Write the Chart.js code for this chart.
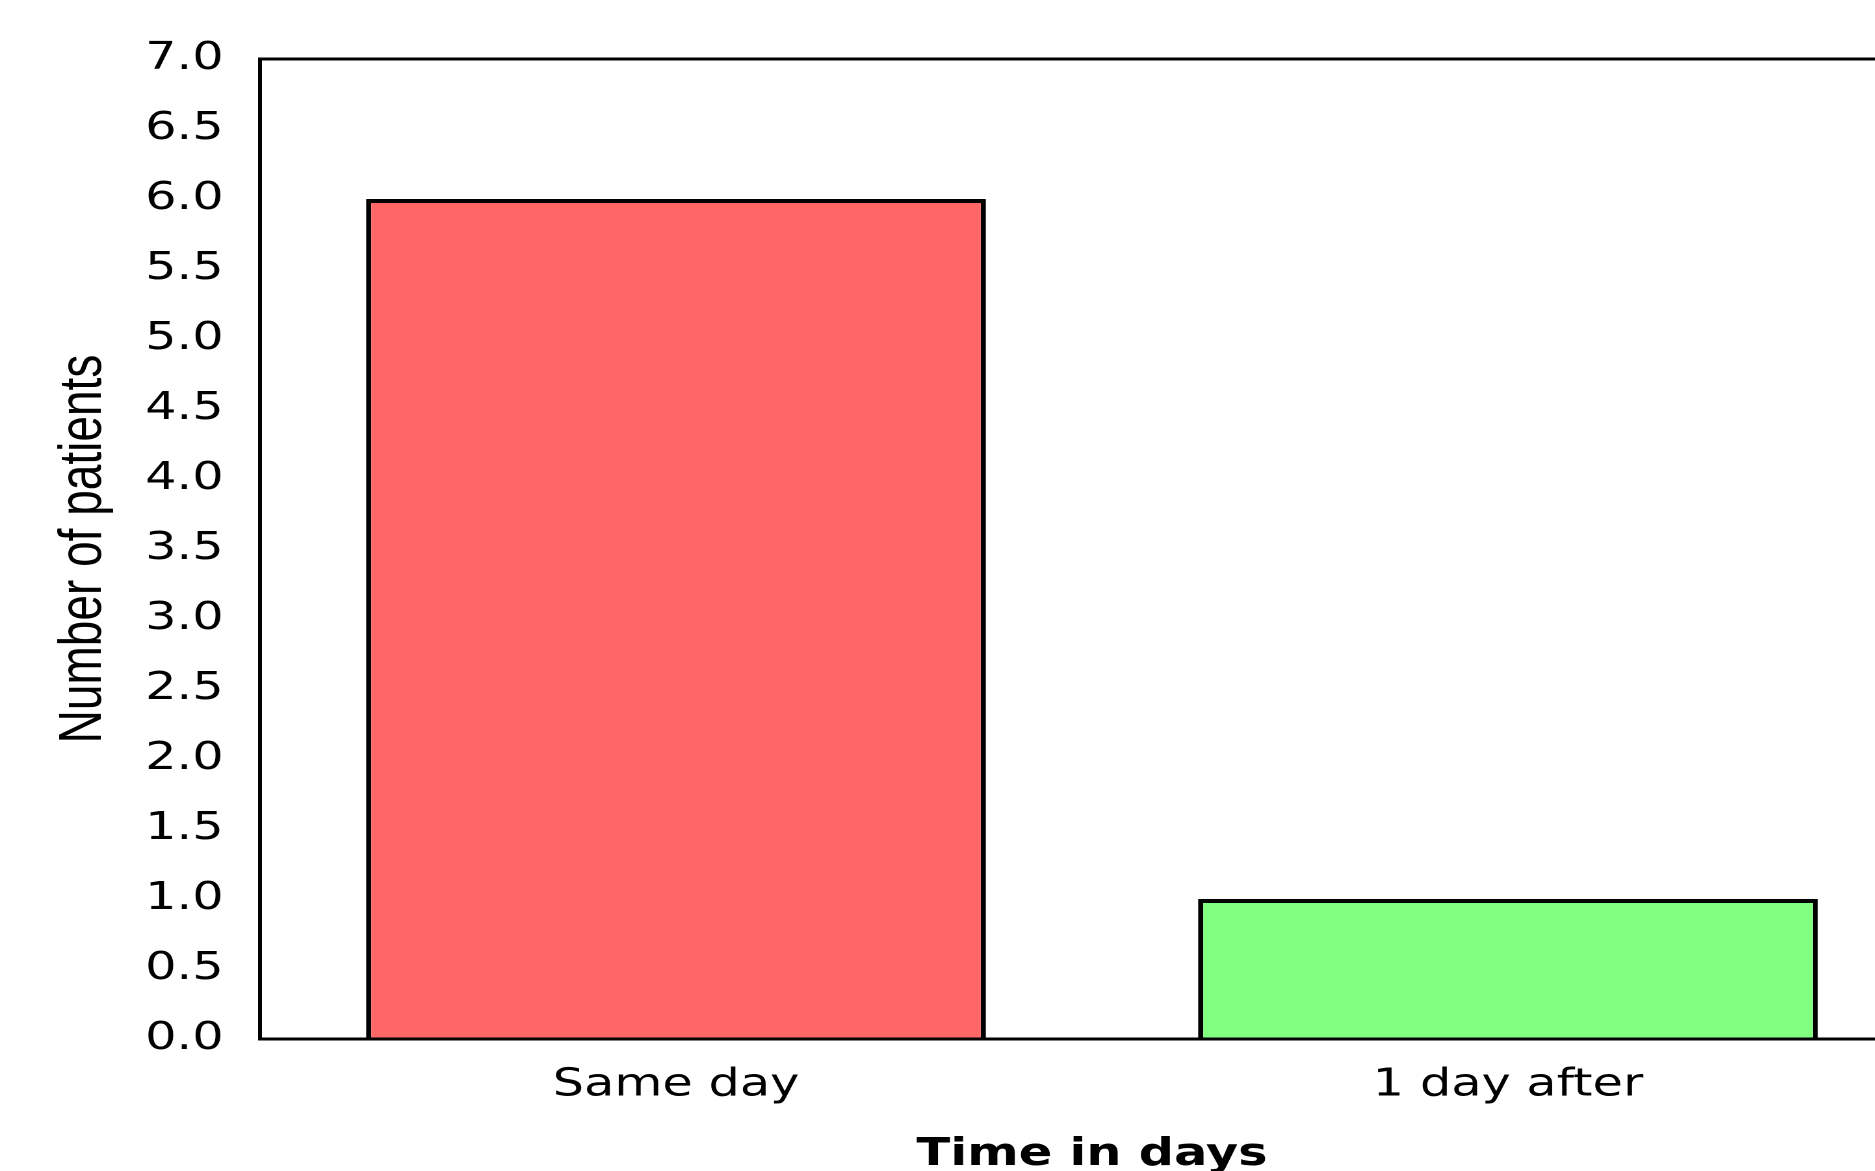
<!DOCTYPE html>
<html>
<head>
<meta charset="utf-8">
<script src="https://cdn.jsdelivr.net/npm/chart.js@4/dist/chart.umd.min.js"></script>
<style>
  html, body { margin: 0; padding: 0; background: #fff; overflow: hidden; }
  /* the source picture is stretched sideways, so stretch the drawing the same way */
  #wrap { width: 1482px; height: 1190px; transform: scaleX(1.3); transform-origin: 0 0; }
</style>
</head>
<body>
<div id="wrap"><canvas id="chart" width="1482" height="1190"></canvas></div>
<script>
// data
const categories = ['Same day', '1 day after'];
const patients = [6, 1];
const barColors = ['#FF6666', '#80FF80'];
const yMin = 0, yMax = 7, yStep = 0.5;

// frame round the plot area
const frame = {
  id: 'frame',
  afterDatasetsDraw(chart) {
    const { ctx, chartArea: a } = chart;
    ctx.save();
    ctx.strokeStyle = '#000';
    ctx.lineWidth = 3;
    ctx.strokeRect(a.left, a.top, a.right - a.left, a.bottom - a.top);
    ctx.restore();
  }
};

new Chart(document.getElementById('chart'), {
  type: 'bar',
  data: {
    labels: categories,
    datasets: [{
      data: patients,
      backgroundColor: barColors,
      borderColor: '#000',
      borderWidth: 4,
      borderSkipped: 'start',
      barPercentage: 0.745,
      categoryPercentage: 1
    }]
  },
  options: {
    responsive: false,
    animation: false,
    devicePixelRatio: 2,
    layout: { padding: { left: 21, top: 59, right: 2, bottom: 12 } },
    plugins: { legend: { display: false }, tooltip: { enabled: false } },
    scales: {
      x: {
        afterFit(scale) { scale.height = 139; },
        grid: { display: false, drawTicks: false },
        border: { display: false },
        ticks: { color: '#000', padding: 24, font: { family: 'DejaVu Sans', size: 38 } },
        title: {
          display: true,
          text: 'Time in days',
          color: '#000',
          padding: { top: 0, bottom: 0 },
          font: { family: 'DejaVu Sans', size: 38, weight: 'bold' }
        }
      },
      y: {
        min: yMin,
        max: yMax,
        afterFit(scale) { scale.width = 179; },
        grid: { display: false, drawTicks: false },
        border: { display: false },
        ticks: {
          stepSize: yStep,
          color: '#000',
          padding: 28,
          font: { family: 'DejaVu Sans', size: 38 },
          callback: v => v.toFixed(1)
        },
        title: {
          display: true,
          text: 'Number of patients',
          color: '#000',
          padding: { top: 16, bottom: 0 },
          font: { family: 'Liberation Sans', size: 46 }
        }
      }
    }
  },
  plugins: [frame]
});
</script>
</body>
</html>
